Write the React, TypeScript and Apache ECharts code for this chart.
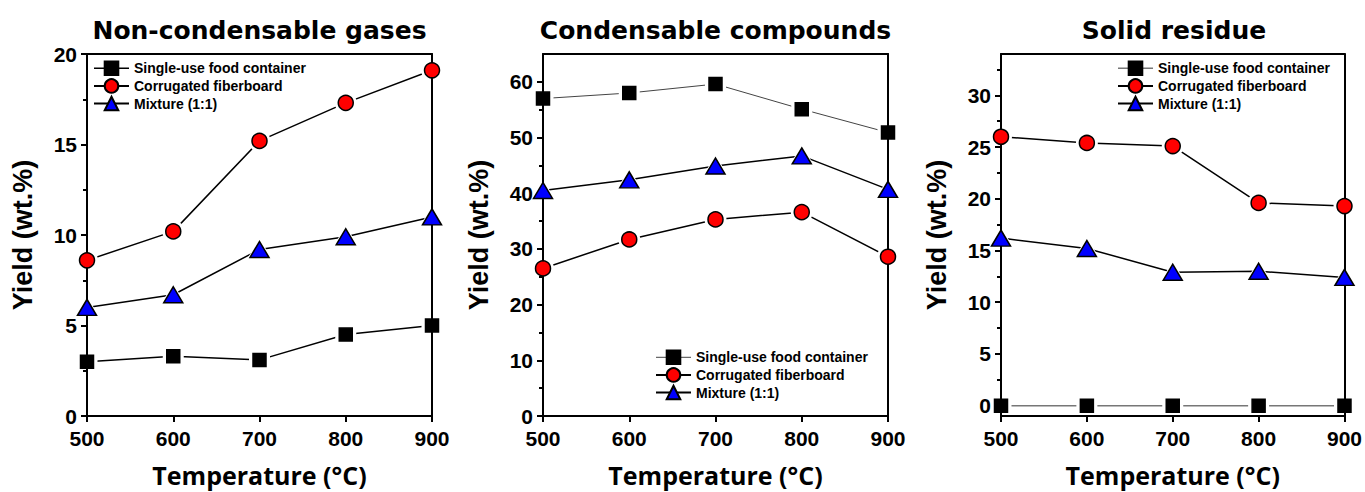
import React, { useEffect, useRef } from 'react';
import * as echarts from 'echarts';

const temperatures = [500, 600, 700, 800, 900];
const seriesNames = ['Single-use food container', 'Corrugated fiberboard', 'Mixture (1:1)'];
const panelTitles = ['Non-condensable gases', 'Condensable compounds', 'Solid residue'];
const xAxisTitle = 'Temperature (\u00B0C)';
const yAxisTitle = 'Yield (wt.%)';

const gasSingleUse = [3.0, 3.3, 3.1, 4.5, 5.0];
const gasFiberboard = [8.6, 10.2, 15.2, 17.3, 19.1];
const gasMixture = [6.0, 6.7, 9.2, 9.9, 11.0];

const condSingleUse = [57.0, 58.0, 59.6, 55.1, 50.9];
const condFiberboard = [26.5, 31.7, 35.3, 36.6, 28.6];
const condMixture = [40.5, 42.4, 44.9, 46.7, 40.7];

const solidSingleUse = [0, 0, 0, 0, 0];
const solidFiberboard = [26.0, 25.4, 25.1, 19.6, 19.3];
const solidMixture = [16.2, 15.2, 12.9, 13.0, 12.4];

const gasYTicks = [0, 5, 10, 15, 20];
const gasYMinor = [2.5, 7.5, 12.5, 17.5];
const condYTicks = [0, 10, 20, 30, 40, 50, 60];
const condYMinor = [5, 15, 25, 35, 45, 55];
const solidYTicks = [0, 5, 10, 15, 20, 25, 30];
const solidYMinor = [2.5, 7.5, 12.5, 17.5, 22.5, 27.5, 32.5];

const TITLE_FONT = '"DejaVu Sans", sans-serif';
const NAME_FONT = '"Open Sans", "Noto Sans", sans-serif';
const ARIAL = '"Liberation Sans", Arial, sans-serif';

const panels = [
  {
    title: panelTitles[0],
    values: [gasSingleUse, gasFiberboard, gasMixture],
    yMin: 0, yMax: 20, ticks: gasYTicks, minor: gasYMinor,
    grid: { left: 87, top: 54, width: 345, height: 363 },
    legend: { left: 93, top: 60.5 },
    firstLine: { color: '#000', width: 1.5 },
  },
  {
    title: panelTitles[1],
    values: [condSingleUse, condFiberboard, condMixture],
    yMin: 0, yMax: 65, ticks: condYTicks, minor: condYMinor,
    grid: { left: 543, top: 54, width: 345, height: 363 },
    legend: { left: 655, top: 349.5 },
    firstLine: { color: '#444', width: 1 },
  },
  {
    title: panelTitles[2],
    values: [solidSingleUse, solidFiberboard, solidMixture],
    yMin: -1, yMax: 34, ticks: solidYTicks, minor: solidYMinor,
    grid: { left: 1001, top: 54, width: 346, height: 363 },
    legend: { left: 1117, top: 60.5 },
    firstLine: { color: '#777', width: 1.5 },
  },
];

const markerStyles = [
  { symbol: 'rect', size: [13, 13], halo: [21, 21], color: '#000000' },
  { symbol: 'circle', size: [15, 15], halo: [22, 22], color: '#ff0000' },
  { symbol: 'triangle', size: [19, 16], halo: [27, 23], color: '#0000ff' },
];

function buildOption() {
  const grid: any[] = [];
  const xAxis: any[] = [];
  const yAxis: any[] = [];
  const series: any[] = [];
  const legend: any[] = [];
  const graphic: any[] = [];

  panels.forEach((p, i) => {
    grid.push({ ...p.grid, containLabel: false });
    const frameLine = { show: true, onZero: false, lineStyle: { color: '#000', width: 2 } };
    xAxis.push({
      type: 'value', gridIndex: i, position: 'bottom', min: 500, max: 900, interval: 100, z: 3,
      axisLine: frameLine,
      axisTick: { show: true, inside: false, length: 6, lineStyle: { color: '#000', width: 2 } },
      axisLabel: { color: '#000', fontFamily: ARIAL, fontWeight: 'bold', fontSize: 21, margin: 12 },
      splitLine: { show: false },
      name: xAxisTitle, nameLocation: 'middle', nameGap: 46,
      nameTextStyle: { color: '#000', fontFamily: NAME_FONT, fontWeight: 'bold', fontSize: 25 },
    });
    xAxis.push({
      type: 'value', gridIndex: i, position: 'top', min: 500, max: 900, z: 3,
      axisLine: frameLine, axisTick: { show: false }, axisLabel: { show: false }, splitLine: { show: false },
    });
    yAxis.push({
      type: 'value', gridIndex: i, position: 'left', min: p.yMin, max: p.yMax, z: 3,
      axisLine: frameLine,
      axisTick: { show: true, inside: false, length: 6, customValues: p.ticks, lineStyle: { color: '#000', width: 2 } },
      axisLabel: { color: '#000', fontFamily: ARIAL, fontWeight: 'bold', fontSize: 21, margin: 10, customValues: p.ticks },
      splitLine: { show: false },
      name: yAxisTitle, nameLocation: 'middle', nameGap: 51,
      nameTextStyle: { color: '#000', fontFamily: ARIAL, fontWeight: 'bold', fontSize: 27 },
    });
    yAxis.push({
      type: 'value', gridIndex: i, position: 'left', min: p.yMin, max: p.yMax, z: 3,
      axisLine: { show: false },
      axisTick: { show: true, inside: false, length: 4, customValues: p.minor, lineStyle: { color: '#000', width: 2 } },
      axisLabel: { show: false }, splitLine: { show: false },
    });
    yAxis.push({
      type: 'value', gridIndex: i, position: 'right', min: p.yMin, max: p.yMax, z: 3,
      axisLine: frameLine, axisTick: { show: false }, axisLabel: { show: false }, splitLine: { show: false },
    });

    p.values.forEach((vals, k) => {
      const m = markerStyles[k];
      const data = temperatures.map((t, j) => [t, vals[j]]);
      const lineStyle = k === 0 ? { color: p.firstLine.color, width: p.firstLine.width } : { color: '#000', width: 1.5 };
      series.push({
        name: seriesNames[k], type: 'line', xAxisIndex: 2 * i, yAxisIndex: 3 * i, data,
        symbol: m.symbol, symbolSize: m.size, showSymbol: true, clip: false, silent: true, z: 1,
        itemStyle: { color: m.color, borderColor: '#000', borderWidth: 1.5, opacity: 1 },
        lineStyle,
      });
      series.push({
        name: `halo-${i}-${k}`, type: 'scatter', xAxisIndex: 2 * i, yAxisIndex: 3 * i, data,
        symbol: m.symbol, symbolSize: m.halo, clip: false, silent: true, z: 2,
        itemStyle: { color: '#ffffff', borderWidth: 0, opacity: 1 },
      });
      series.push({
        name: `marker-${i}-${k}`, type: 'scatter', xAxisIndex: 2 * i, yAxisIndex: 3 * i, data,
        symbol: m.symbol, symbolSize: m.size, clip: false, silent: true, z: 4,
        itemStyle: { color: m.color, borderColor: '#000', borderWidth: 1.5, opacity: 1 },
      });
    });

    legend.push({
      data: seriesNames.map((n, k) => (k === 0 ? { name: n, lineStyle: { ...p.firstLine } } : { name: n })),
      left: p.legend.left, top: p.legend.top, orient: 'vertical', padding: 0,
      itemWidth: 35, itemHeight: 17, itemGap: 2, selectedMode: false,
      textStyle: { color: '#000', fontFamily: ARIAL, fontWeight: 'bold', fontSize: 14, padding: [0, 0, 0, 0] },
    });

    graphic.push({
      type: 'text', x: p.grid.left + p.grid.width / 2, y: 30, z: 10,
      style: { text: p.title, align: 'center', verticalAlign: 'middle', fill: '#000',
        font: `bold 25px ${TITLE_FONT}` },
    });
  });

  return { animation: false, backgroundColor: '#fff', grid, xAxis, yAxis, series, legend, graphic };
}

export default function App() {
  const ref = useRef<HTMLDivElement>(null);
  useEffect(() => {
    if (!ref.current) return;
    const chart = echarts.init(ref.current, undefined, { renderer: 'svg' });
    chart.setOption(buildOption() as any);
    return () => chart.dispose();
  }, []);
  return <div ref={ref} style={{ position: 'absolute', left: 0, top: 0, width: 1365, height: 492 }} />;
}
